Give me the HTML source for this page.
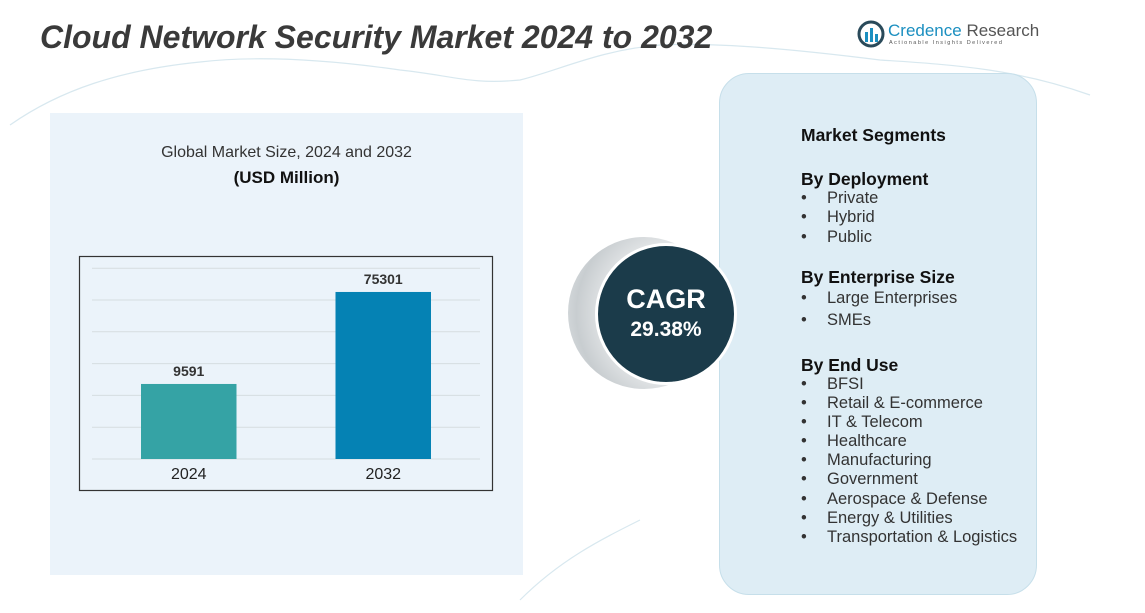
<!DOCTYPE html>
<html><head><meta charset="utf-8"><style>
body{margin:0;width:1145px;height:613px;background:#fff;position:relative;overflow:hidden;font-family:"Liberation Sans",sans-serif;}
.a{position:absolute;white-space:nowrap;}
.li{position:absolute;left:801px;font-size:16.5px;color:#333;white-space:nowrap;}
.li span{position:absolute;left:26px;white-space:nowrap;}
.h{position:absolute;left:801px;font-size:17.5px;font-weight:bold;color:#111;white-space:nowrap;}
</style></head><body>
<svg class="a" style="left:0;top:0" width="1145" height="613">
<g fill="none" stroke="#d8e8ef" stroke-width="1.2">
<path d="M10 125 C60 90 120 70 200 62 C260 55 330 60 400 70 C450 75 470 85 520 80 C560 70 600 50 660 45 C720 42 800 50 880 60 C960 65 1020 70 1090 95"/>
<path d="M520 600 C560 560 600 540 640 520"/>
</g></svg>
<div class="a" style="left:40px;top:19px;font-size:32px;font-weight:bold;font-style:italic;color:#3a3a3a;">Cloud Network Security Market 2024 to 2032</div>
<div class="a" style="left:857px;top:20px;">
<svg width="30" height="28"><circle cx="14" cy="14" r="12" fill="none" stroke="#2a4a5a" stroke-width="3"/><rect x="8" y="12" width="3" height="10" fill="#1b8fc0"/><rect x="13" y="8" width="3" height="14" fill="#1b8fc0"/><rect x="18" y="14" width="3" height="8" fill="#1b8fc0"/></svg>
<span class="a" style="left:31px;top:1px;font-size:17px;color:#1b8fc0;">Credence <span style="color:#555">Research</span></span>
<span class="a" style="left:32px;top:20px;font-size:5.5px;letter-spacing:1.5px;color:#555;">Actionable Insights Delivered</span>
</div>
<div class="a" style="left:50px;top:113px;width:473px;height:462px;background:rgba(228,239,248,0.75);"></div>
<div class="a" style="left:50px;top:144px;width:473px;text-align:center;font-size:16px;color:#333;">Global Market Size, 2024 and 2032</div>
<div class="a" style="left:50px;top:168px;width:473px;text-align:center;font-size:17px;font-weight:bold;color:#111;">(USD Million)</div>
<svg id="chart" class="a" style="left:0;top:0" width="1145" height="613"></svg>
<div class="a" style="left:719px;top:73px;width:318px;height:522px;border-radius:30px;background:#deedf5;border:1.5px solid #c6dfea;box-sizing:border-box;"></div>
<div class="a" style="left:568px;top:237px;width:152px;height:152px;border-radius:50%;background:radial-gradient(circle at 70% 50%,#fff 30%,#c8cdd0 75%,#e8ecee 100%);"></div>
<div class="a" style="left:595px;top:243px;width:142px;height:142px;border-radius:50%;background:#1b3b4a;border:3px solid #fff;box-sizing:border-box;"></div>
<div class="a" style="left:595px;top:284px;width:142px;text-align:center;font-size:27px;font-weight:bold;color:#fff;">CAGR</div>
<div class="a" style="left:595px;top:318px;width:142px;text-align:center;font-size:21px;font-weight:bold;color:#fff;">29.38%</div>
<div class="h" style="top:125px;">Market Segments</div>
<div class="h" style="top:169px;">By Deployment</div>
<div class="li" style="top:189px;">•<span>Private</span></div>
<div class="li" style="top:208px;">•<span>Hybrid</span></div>
<div class="li" style="top:228px;">•<span>Public</span></div>
<div class="h" style="top:267px;">By Enterprise Size</div>
<div class="li" style="top:289px;">•<span>Large Enterprises</span></div>
<div class="li" style="top:311px;">•<span>SMEs</span></div>
<div class="h" style="top:355px;">By End Use</div>
<div class="li" style="top:375px;">•<span>BFSI</span></div>
<div class="li" style="top:394px;">•<span>Retail &amp; E-commerce</span></div>
<div class="li" style="top:413px;">•<span>IT &amp; Telecom</span></div>
<div class="li" style="top:432px;">•<span>Healthcare</span></div>
<div class="li" style="top:451px;">•<span>Manufacturing</span></div>
<div class="li" style="top:470px;">•<span>Government</span></div>
<div class="li" style="top:490px;">•<span>Aerospace &amp; Defense</span></div>
<div class="li" style="top:509px;">•<span>Energy &amp; Utilities</span></div>
<div class="li" style="top:528px;">•<span>Transportation &amp; Logistics</span></div>
<script>
const categories=["2024","2032"];
const values=[9591,75301];
const barColors=["#35a3a5","#0582b4"];
const NS="http://www.w3.org/2000/svg";
const svg=document.getElementById('chart');
// axis: baseline y=459, value domain chosen to match reference bar heights
const yMin=-44000, base=459, pxPerUnit=92/65710;
function y(v){return base-(v-yMin)*pxPerUnit;}
function x(i){return 141+i*194.5;}
const bw=95.5;
function mk(t,a){const e=document.createElementNS(NS,t);for(const k in a)e.setAttribute(k,a[k]);svg.appendChild(e);return e;}
const frame=mk('rect',{x:79.5,y:256.5,width:413,height:234,fill:'none',stroke:'#333','stroke-width':1.2});


for(let k=0;k<7;k++){
  const gy=base-k*31.8;
  const g=mk('line',{x1:92,x2:480,y1:gy,y2:gy,stroke:'#d6dde0','stroke-width':1});
  
  
}
categories.forEach((c,i)=>{
  const top=y(values[i]);
  const r=mk('rect',{x:x(i),y:top,width:bw,height:base-top,fill:barColors[i]});
  
  
  const t=mk('text',{x:x(i)+bw/2,y:top-8,'text-anchor':'middle','font-size':14,'font-weight':'bold',fill:'#333','font-family':'Liberation Sans'});
  t.textContent=values[i];
  
  
  const l=mk('text',{x:x(i)+bw/2,y:479,'text-anchor':'middle','font-size':16,fill:'#222','font-family':'Liberation Sans'});
  l.textContent=c;
  
  
});
</script>
</body></html>
